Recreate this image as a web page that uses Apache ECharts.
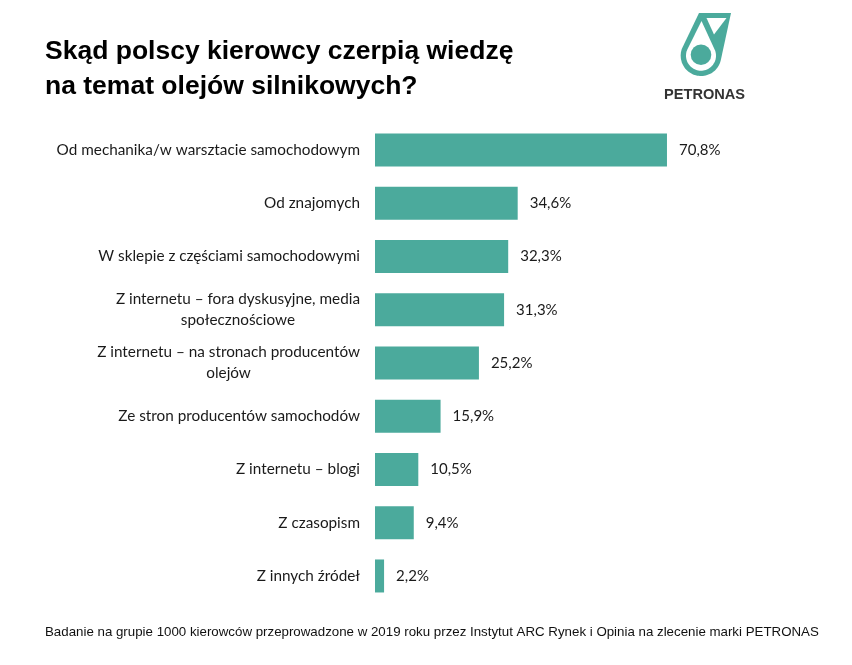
<!DOCTYPE html>
<html><head><meta charset="utf-8">
<script src="https://cdn.jsdelivr.net/npm/echarts@6/dist/echarts.min.js"></script>
<style>html,body{margin:0;padding:0;background:#fff}#c{width:852px;height:665px}</style>
</head><body><div id="c"></div>
<script>
const categories = [
  'Od mechanika/w warsztacie samochodowym',
  'Od znajomych',
  'W sklepie z częściami samochodowymi',
  'Z internetu – fora dyskusyjne, media\nspołecznościowe',
  'Z internetu – na stronach producentów\nolejów',
  'Ze stron producentów samochodów',
  'Z internetu – blogi',
  'Z czasopism',
  'Z innych źródeł'
];
const values = [70.8, 34.6, 32.3, 31.3, 25.2, 15.9, 10.5, 9.4, 2.2];
const titleText = 'Skąd polscy kierowcy czerpią wiedzę\nna temat olejów silnikowych?';
const footnote = 'Badanie na grupie 1000 kierowców przeprowadzone w 2019 roku przez Instytut ARC Rynek i Opinia na zlecenie marki PETRONAS';
const brand = 'PETRONAS';

const teal = '#4BAA9C';
const labelFont = "Lato, 'Open Sans', sans-serif";

// logo helper: drop outline polygon = apex edge, tangent lines and the lower arc of a circle
function dropPoints(ax, ay, bx, by, cx, cy, r) {
  function tangentAngle(px, py, side) {
    const dx = px - cx, dy = py - cy, d = Math.hypot(dx, dy);
    return Math.atan2(dy, dx) + side * Math.acos(r / d);
  }
  const aR = tangentAngle(bx, by, 1);
  let aL = tangentAngle(ax, ay, -1);
  while (aL < aR) aL += Math.PI * 2;
  const pts = [[ax, ay], [bx, by]];
  const n = 48;
  for (let i = 0; i <= n; i++) {
    const a = aR + (aL - aR) * i / n;
    pts.push([cx + r * Math.cos(a), cy + r * Math.sin(a)]);
  }
  return pts;
}

const chart = echarts.init(document.getElementById('c'));
chart.setOption({
  backgroundColor: '#fff',
  animation: false,
  title: {
    text: titleText, left: 40, top: 29.5,
    textStyle: { fontFamily: "'Liberation Sans', Arial, sans-serif", fontWeight: 'bold', fontSize: 26.5, color: '#000', lineHeight: 35 }
  },
  grid: { left: 375, right: 64.6, top: 123.4, bottom: 62.4, containLabel: false },
  xAxis: { type: 'value', min: 0, max: 100, show: false },
  yAxis: {
    type: 'category', data: categories, inverse: true,
    axisLine: { show: false }, axisTick: { show: false },
    axisLabel: {
      margin: 15, align: 'right', color: '#1a1a1a',
      fontFamily: labelFont, fontSize: 15.3, lineHeight: 21,
      formatter: v => v.split('\n').map(s => '{c|' + s + '}').join('\n'),
      rich: { c: { align: 'center', fontFamily: labelFont, fontSize: 15.3, lineHeight: 21, color: '#1a1a1a' } }
    }
  },
  series: [{
    type: 'bar', data: values, barWidth: 33,
    itemStyle: { color: teal },
    label: {
      show: true, position: 'right', distance: 12, color: '#1a1a1a',
      fontFamily: labelFont, fontSize: 15,
      formatter: p => p.value.toFixed(1).replace('.', ',') + '%'
    }
  }],
  graphic: [
    { type: 'text', x: 45, y: 626, style: { text: footnote, fontFamily: "'Liberation Sans', Arial, sans-serif", fontSize: 13.3, fill: '#111' } },
    { type: 'text', x: 664, y: 87, style: { text: brand, fontFamily: "'Liberation Sans', Arial, sans-serif", fontWeight: 'bold', fontSize: 14.6, fill: '#333' } },
    { type: 'polygon', shape: { points: dropPoints(699, 13, 731, 13, 701, 55.7, 20.3) }, style: { fill: teal } },
    { type: 'polygon', shape: { points: dropPoints(701.5, 21, 701.5, 21, 701, 55.7, 15) }, style: { fill: '#fff' } },
    { type: 'polygon', shape: { points: [[706.5, 18], [726.5, 18], [714, 34.5]] }, style: { fill: '#fff' } },
    { type: 'circle', shape: { cx: 701, cy: 54.8, r: 10.3 }, style: { fill: teal } }
  ]
});
</script></body></html>
